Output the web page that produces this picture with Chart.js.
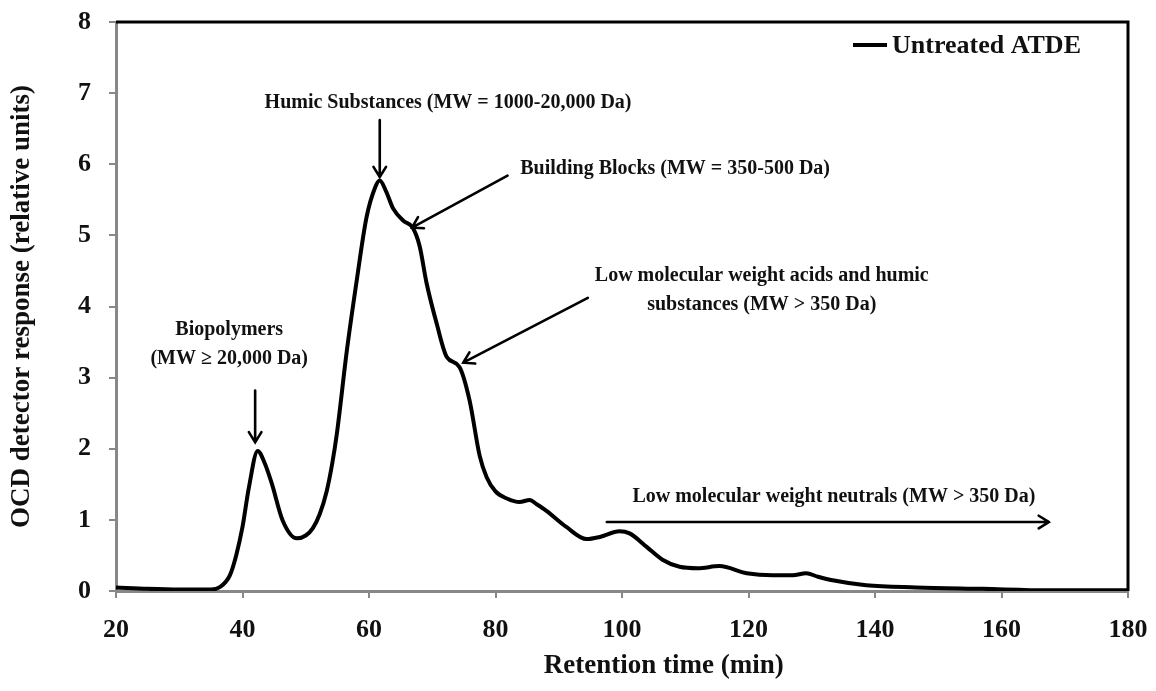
<!DOCTYPE html>
<html>
<head>
<meta charset="utf-8">
<script src="https://cdn.jsdelivr.net/npm/chart.js@4.4.1/dist/chart.umd.min.js"></script>
<style>
  html, body { margin: 0; padding: 0; background: #fff; }
  #wrap { width: 1156px; height: 691px; }
</style>
</head>
<body>
<div id="wrap"><canvas id="ocdChart" width="1156" height="691"></canvas></div>
<script>
// retention time (min) and OCD response
const retentionTime = [20, 25, 30, 35, 36.5, 38, 39, 40, 41, 42.4, 43.5, 44.6, 46.4, 48.6, 50, 51.1, 52.2, 53.3, 54.2, 54.9, 56.5, 58, 59.6, 61, 61.7, 62.7, 63.8, 65.5, 66.9, 68, 69.1, 70.7, 72.3, 74.3, 75.9, 77.5, 78.6, 80, 81.8, 83.8, 85.4, 86.5, 88, 91.2, 94.4, 96.5, 99.6, 101.2, 103.9, 106.4, 109.1, 112, 115.4, 119.7, 123.8, 127, 129.1, 131, 133.3, 138.6, 146.5, 157, 167.5, 180];
const ocdResponse = [0.05, 0.03, 0.02, 0.02, 0.06, 0.22, 0.5, 0.9, 1.45, 1.97, 1.8, 1.52, 0.98, 0.74, 0.78, 0.88, 1.08, 1.4, 1.8, 2.2, 3.38, 4.33, 5.25, 5.68, 5.77, 5.62, 5.38, 5.2, 5.11, 4.85, 4.33, 3.76, 3.29, 3.15, 2.68, 1.9, 1.6, 1.4, 1.3, 1.25, 1.28, 1.22, 1.13, 0.9, 0.73, 0.76, 0.84, 0.81, 0.62, 0.44, 0.34, 0.32, 0.35, 0.25, 0.22, 0.22, 0.25, 0.2, 0.15, 0.08, 0.05, 0.03, 0.01, 0.01];
const seriesLabel = 'Untreated ATDE';
const xTicks = [20, 40, 60, 80, 100, 120, 140, 160, 180];
const yTicks = [0, 1, 2, 3, 4, 5, 6, 7, 8];

// peak labels, in data units
const notes = [
    { lines: ['Biopolymers', '(MW \u2265 20,000 Da)'], x: 37.9, y: 3.67, from: [42, 2.82], to: [42, 2.09] },
    { lines: ['Humic Substances (MW = 1000-20,000 Da)'], x: 72.5, y: 6.86, from: [61.7, 6.62], to: [61.7, 5.82] },
    { lines: ['Building Blocks (MW = 350-500 Da)'], x: 108.4, y: 5.93, from: [81.9, 5.84], to: [66.8, 5.11] },
    { lines: ['Low molecular weight acids and humic', 'substances (MW > 350 Da)'], x: 122.1, y: 4.43, from: [94.6, 4.12], to: [74.9, 3.21] },
    { lines: ['Low molecular weight neutrals (MW > 350 Da)'], x: 133.5, y: 1.32, from: [97.6, 0.97], to: [167.5, 0.97] }
];

const serif = "'Liberation Serif', 'Times New Roman', serif";

function arrow(ctx, x1, y1, x2, y2) {
    const a = Math.atan2(y2 - y1, x2 - x1);
    const h = 12;
    ctx.beginPath();
    ctx.moveTo(x1, y1);
    ctx.lineTo(x2, y2);
    ctx.moveTo(x2 - h * Math.cos(a - 0.55), y2 - h * Math.sin(a - 0.55));
    ctx.lineTo(x2, y2);
    ctx.lineTo(x2 - h * Math.cos(a + 0.55), y2 - h * Math.sin(a + 0.55));
    ctx.stroke();
}

const extras = {
    id: 'extras',
    afterDraw(chart) {
        const ctx = chart.ctx;
        const xs = chart.scales.x, ys = chart.scales.y;
        const area = chart.chartArea;
        ctx.save();
        // black frame on top and right
        ctx.strokeStyle = '#000';
        ctx.lineWidth = 3;
        ctx.beginPath();
        ctx.moveTo(area.left, area.top);
        ctx.lineTo(area.right, area.top);
        ctx.lineTo(area.right, area.bottom);
        ctx.stroke();

        ctx.fillStyle = '#111';
        ctx.textAlign = 'center';
        ctx.textBaseline = 'middle';
        ctx.font = 'bold 20px ' + serif;
        ctx.lineWidth = 2.6;
        ctx.lineCap = 'round';
        notes.forEach(n => {
            const cx = xs.getPixelForValue(n.x);
            const cy = ys.getPixelForValue(n.y);
            n.lines.forEach((t, i) => ctx.fillText(t, cx, cy + i * 29));
            arrow(ctx, xs.getPixelForValue(n.from[0]), ys.getPixelForValue(n.from[1]),
                xs.getPixelForValue(n.to[0]), ys.getPixelForValue(n.to[1]));
        });

        // x axis title, sits a bit right of centre in the original
        ctx.font = 'bold 27px ' + serif;
        ctx.fillText('Retention time (min)', xs.getPixelForValue(106.6), area.bottom + 75);

        // legend
        const lx = area.left + 737, ly = area.top + 23;
        ctx.lineWidth = 4;
        ctx.lineCap = 'butt';
        ctx.beginPath();
        ctx.moveTo(lx, ly);
        ctx.lineTo(lx + 34, ly);
        ctx.stroke();
        ctx.textAlign = 'left';
        ctx.font = 'bold 26px ' + serif;
        ctx.fillText(seriesLabel, lx + 39, ly + 1);
        ctx.restore();
    }
};

new Chart(document.getElementById('ocdChart').getContext('2d'), {
    type: 'line',
    data: {
        datasets: [{
            label: seriesLabel,
            data: retentionTime.map((t, i) => ({ x: t, y: ocdResponse[i] })),
            borderColor: '#000',
            borderWidth: 4,
            pointRadius: 0,
            cubicInterpolationMode: 'monotone',
            fill: false
        }]
    },
    options: {
        responsive: false,
        animation: false,
        layout: { padding: { top: 22, right: 28, left: 0, bottom: 0 } },
        plugins: {
            legend: { display: false },
            tooltip: { enabled: false }
        },
        scales: {
            x: {
                type: 'linear',
                min: 20,
                max: 180,
                afterBuildTicks: s => { s.ticks = xTicks.map(v => ({ value: v })); },
                afterFit: s => { s.height = 100; s.paddingLeft = 0; s.paddingRight = 0; },
                grid: { drawOnChartArea: false, drawTicks: true, tickLength: 7, color: '#888', lineWidth: 2 },
                border: { color: '#888', width: 3 },
                ticks: { color: '#111', padding: 17, maxRotation: 0, font: { family: serif, size: 26, weight: 'bold' } },
                title: { display: false }
            },
            y: {
                min: 0,
                max: 8,
                afterBuildTicks: s => { s.ticks = yTicks.map(v => ({ value: v })); },
                afterFit: s => { s.width = 116; s.paddingTop = 0; s.paddingBottom = 0; },
                grid: { drawOnChartArea: false, drawTicks: true, tickLength: 7, color: '#888', lineWidth: 2 },
                border: { color: '#888', width: 3 },
                ticks: { color: '#111', padding: 18, font: { family: serif, size: 26, weight: 'bold' } },
                title: { display: true, text: 'OCD detector response (relative units)', color: '#111', padding: 6, font: { family: serif, size: 27, weight: 'bold' } }
            }
        }
    },
    plugins: [extras]
});
</script>
</body>
</html>
